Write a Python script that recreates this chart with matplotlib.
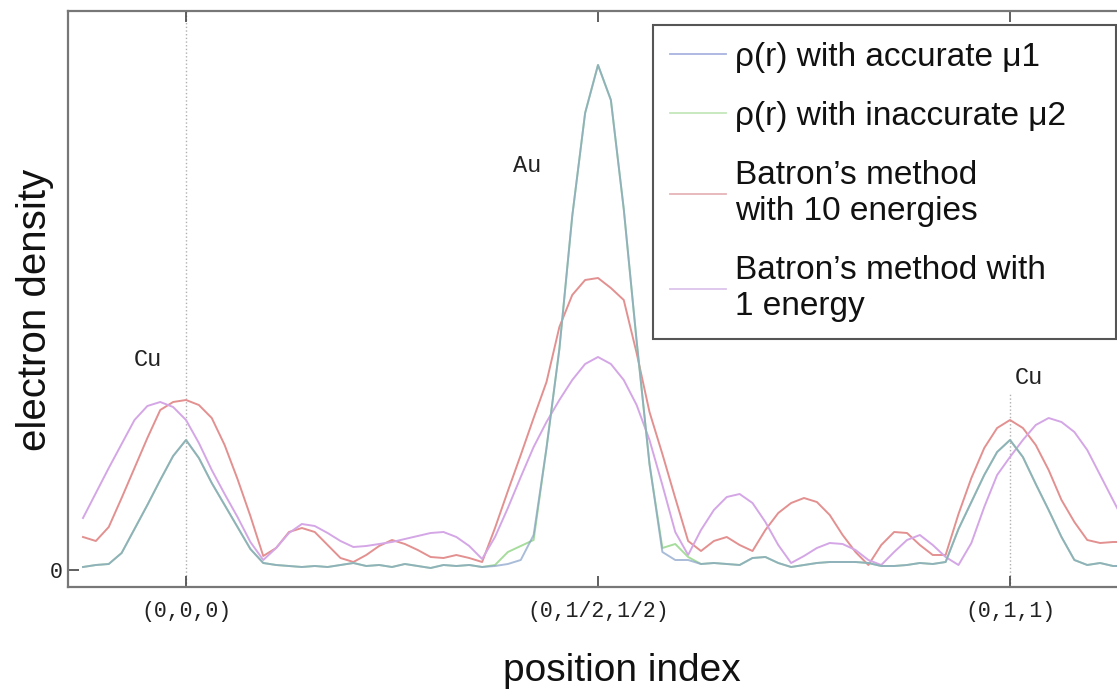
import matplotlib.pyplot as plt
import numpy as np

# position index: (0,0,0) -> 0, (0,1/2,1/2) -> 32, (0,1,1) -> 64
pos = np.arange(-8, 74)

acc_mu1 = [0.03, 0.05, 0.06, 0.17, 0.41, 0.65, 0.90, 1.14, 1.30, 1.12,
           0.87, 0.65, 0.43, 0.21, 0.07, 0.05, 0.04, 0.03, 0.04, 0.03,
           0.05, 0.07, 0.04, 0.05, 0.03, 0.06, 0.04, 0.02, 0.05, 0.04,
           0.05, 0.03, 0.04, 0.06, 0.10, 0.35, 1.22, 2.21, 3.54, 4.57,
           5.05, 4.70, 3.61, 2.29, 1.06, 0.18, 0.10, 0.10, 0.06, 0.07,
           0.06, 0.05, 0.12, 0.13, 0.07, 0.03, 0.05, 0.07, 0.08, 0.08,
           0.08, 0.07, 0.04, 0.04, 0.05, 0.07, 0.06, 0.08, 0.41, 0.68,
           0.95, 1.18, 1.30, 1.13, 0.86, 0.60, 0.33, 0.10, 0.05, 0.07,
           0.04, 0.04]

inacc_mu2 = [0.03, 0.05, 0.06, 0.17, 0.41, 0.65, 0.90, 1.14, 1.30, 1.12,
             0.87, 0.65, 0.43, 0.21, 0.07, 0.05, 0.04, 0.03, 0.04, 0.03,
             0.05, 0.07, 0.04, 0.05, 0.03, 0.06, 0.04, 0.02, 0.05, 0.04,
             0.05, 0.03, 0.05, 0.18, 0.24, 0.30, 1.22, 2.21, 3.54, 4.57,
             5.05, 4.70, 3.61, 2.29, 1.06, 0.22, 0.26, 0.13, 0.06, 0.07,
             0.06, 0.05, 0.12, 0.13, 0.07, 0.03, 0.05, 0.07, 0.08, 0.08,
             0.08, 0.07, 0.04, 0.04, 0.05, 0.07, 0.06, 0.08, 0.41, 0.68,
             0.95, 1.18, 1.30, 1.13, 0.86, 0.60, 0.33, 0.10, 0.05, 0.07,
             0.04, 0.04]

batron_10 = [0.33, 0.29, 0.43, 0.72, 1.02, 1.32, 1.60, 1.68, 1.70, 1.65,
             1.52, 1.25, 0.91, 0.54, 0.14, 0.22, 0.38, 0.42, 0.38, 0.25,
             0.12, 0.08, 0.15, 0.24, 0.30, 0.26, 0.20, 0.13, 0.12, 0.15,
             0.12, 0.08, 0.42, 0.79, 1.15, 1.52, 1.88, 2.43, 2.75, 2.90,
             2.92, 2.82, 2.70, 2.17, 1.58, 1.16, 0.72, 0.29, 0.19, 0.29,
             0.33, 0.25, 0.19, 0.40, 0.57, 0.67, 0.72, 0.68, 0.55, 0.35,
             0.18, 0.05, 0.25, 0.38, 0.37, 0.25, 0.15, 0.15, 0.56, 0.92,
             1.22, 1.42, 1.50, 1.42, 1.25, 1.00, 0.70, 0.48, 0.30, 0.27,
             0.28, 0.28]

batron_1 = [0.52, 0.77, 1.02, 1.26, 1.50, 1.64, 1.68, 1.63, 1.50, 1.27,
            1.00, 0.76, 0.53, 0.28, 0.10, 0.22, 0.37, 0.46, 0.44, 0.37,
            0.29, 0.23, 0.24, 0.26, 0.28, 0.31, 0.34, 0.37, 0.38, 0.33,
            0.24, 0.11, 0.33, 0.62, 0.93, 1.23, 1.48, 1.70, 1.90, 2.06,
            2.13, 2.06, 1.90, 1.65, 1.30, 0.85, 0.38, 0.15, 0.40, 0.60,
            0.73, 0.76, 0.67, 0.48, 0.25, 0.07, 0.14, 0.22, 0.27, 0.26,
            0.20, 0.10, 0.05, 0.18, 0.30, 0.35, 0.25, 0.13, 0.05, 0.27,
            0.63, 0.95, 1.13, 1.30, 1.45, 1.52, 1.48, 1.38, 1.20, 0.95,
            0.70, 0.45]

tick_pos = [0, 32, 64]
tick_labels = ["(0,0,0)", "(0,1/2,1/2)", "(0,1,1)"]

fig = plt.figure(figsize=(11.17, 6.9), dpi=100)
W, H = 1117, 690
ax = fig.add_axes([68 / W, (H - 587) / H, (1176 - 68) / W, (587 - 11) / H])

ax.plot(pos, inacc_mu2, color="#a6dc9c", lw=1.4, zorder=3)
ax.plot(pos, acc_mu1, color="#85a0c8", lw=1.4, alpha=0.7, zorder=4)
ax.plot(pos, batron_10, color="#e39090", lw=1.4, zorder=2)
ax.plot(pos, batron_1, color="#d4a6e6", lw=1.4, zorder=2)

# legend proxies (legend order)
h1, = ax.plot([], [], color="#a9b3e0", lw=1.3)
h2, = ax.plot([], [], color="#c4e8bb", lw=1.3)
h3, = ax.plot([], [], color="#e6b4b8", lw=1.3)
h4, = ax.plot([], [], color="#dcc4ea", lw=1.3)

ax.axvline(0, color="#b0b0b0", lw=1, ls=":", zorder=1)
ax.plot([64, 64], [-0.17, 1.77], color="#b0b0b0", lw=1, ls=":", zorder=1)

ax.set_xlim((68 - 186) / 12.875, (1176 - 186) / 12.875)
ax.set_ylim(-0.17, 5.59)

mono = "Liberation Mono"
ax.text(-2.95, 2.11, "Cu", family=mono, fontsize=17, ha="center", va="center", color="#222222")
ax.text(26.5, 4.05, "Au", family=mono, fontsize=17, ha="center", va="center", color="#222222")
ax.text(65.5, 1.92, "Cu", family=mono, fontsize=17, ha="center", va="center", color="#222222")

ax.set_xticks(tick_pos)
ax.set_xticklabels(tick_labels, family=mono, fontsize=15.5, color="#222222")
ax.set_yticks([0])
ax.set_yticklabels(["0"], family=mono, fontsize=15.5, color="#222222")
ax.tick_params(direction="in", length=8, width=1.2, color="#444444", top=True, right=True)
ax.tick_params(axis="x", pad=10)
ax.tick_params(axis="y", pad=4)

for s in ax.spines.values():
    s.set_color("#777777")
    s.set_linewidth(1.6)

ax.set_xlabel("position index", family="Liberation Sans", fontsize=28, color="#111111")
ax.xaxis.set_label_coords(0.5, -(653 - 587) / 576)
ax.set_ylabel("electron density", family="Liberation Sans", fontsize=29, color="#111111")
ax.yaxis.set_label_coords(-(68 - 54) / 1108, (587 - 310) / 576)

leg = ax.legend([h1, h2, h3, h4],
                ["ρ(r) with accurate μ1", "ρ(r) with inaccurate μ2",
                 "Batron\u2019s method\nwith 10 energies", "Batron\u2019s method with\n1 energy"],
                loc="upper left", mode="expand",
                bbox_to_anchor=(653 / W, (H - 338) / H, (1116 - 653) / W, (338 - 25) / H),
                bbox_transform=fig.transFigure,
                borderaxespad=0, fancybox=False, framealpha=1, edgecolor="#555555",
                prop={"family": "Liberation Sans", "size": 24}, handlelength=1.7,
                handletextpad=0.25, borderpad=0.5, labelspacing=0.85)
leg.get_frame().set_linewidth(1.5)
for t in leg.get_texts():
    t.set_color("#111111")

fig.savefig("out.png", dpi=100)
